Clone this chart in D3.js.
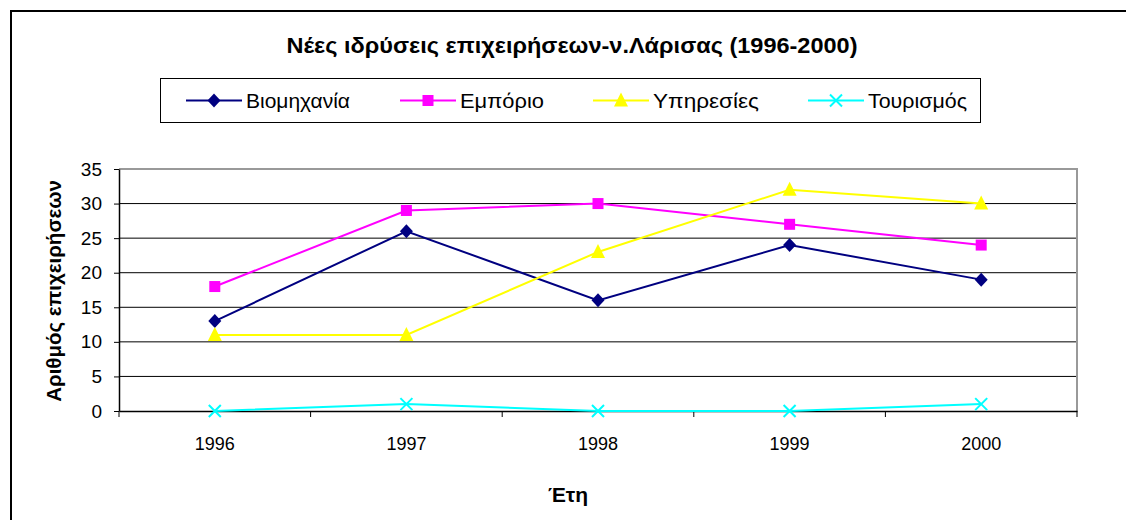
<!DOCTYPE html>
<html><head><meta charset="utf-8">
<script src="https://cdn.jsdelivr.net/npm/d3@7"></script>
<style>body{margin:0;background:#fff}svg{display:block}text{font-family:"Liberation Sans",Arial,sans-serif;fill:#000}</style>
</head><body>
<svg id="c" width="1126" height="520"></svg>
<script>
const years = ["1996","1997","1998","1999","2000"];
const seriesNames = ["Βιομηχανία","Εμπόριο","Υπηρεσίες","Τουρισμός"];
const industry = [13,26,16,24,19];
const commerce = [18,29,30,27,24];
const services = [11,11,23,32,30];
const tourism = [0,1,0,0,1];
const yTicks = [0,5,10,15,20,25,30,35];
const colors = ["#000080","#FF00FF","#FFFF00","#00FFFF"];
const shapes = ["diamond","square","triangle","x"];
const series = [industry, commerce, services, tourism];

const svg = d3.select("#c");
const L=119, R=1077, T=169, B=411;
const x = d3.scaleBand().domain(years).range([L,R]);
const y = d3.scaleLinear().domain([0,35]).range([B,T]);

// outer frame
svg.append("path").attr("d","M11,520 V11 H1126").attr("fill","none").attr("stroke","#000").attr("stroke-width",2);

// title
svg.append("text").attr("x",572).attr("y",53).attr("text-anchor","middle")
  .attr("textLength",571).attr("lengthAdjust","spacingAndGlyphs")
  .style("font-size","22px").style("font-weight","bold")
  .text("Νέες ιδρύσεις επιχειρήσεων-ν.Λάρισας (1996-2000)");

// gridlines
svg.append("g").selectAll("line").data(yTicks.filter(d=>d>0 && d<35)).join("line")
  .attr("x1",L).attr("x2",R).attr("y1",d=>y(d)).attr("y2",d=>y(d)).attr("stroke","#000").attr("stroke-width",1);
// plot border
svg.append("path").attr("d",`M${L},${T} H${R} V${B}`).attr("fill","none").attr("stroke","#999").attr("stroke-width",2);

// y axis
const ya = svg.append("g").attr("transform",`translate(${L},0)`)
  .call(d3.axisLeft(y).tickValues(yTicks).tickSize(5).tickSizeOuter(0).tickPadding(12));
ya.select(".domain").attr("stroke","#000").attr("stroke-width",1.5);
ya.selectAll("line").attr("stroke","#000");
ya.selectAll("text").style("font-size","19px").style("font-family","Liberation Sans, Arial, sans-serif");

// x axis
const xa = svg.append("g").attr("transform",`translate(0,${B})`)
  .call(d3.axisBottom(x).tickSize(0).tickPadding(26));
xa.select(".domain").attr("stroke","#000").attr("stroke-width",1.5);
xa.selectAll("text").style("font-size","18px").style("font-family","Liberation Sans, Arial, sans-serif");
const bounds = years.map(d=>x(d)).concat([x(years[years.length-1])+x.bandwidth()]);
svg.append("g").selectAll("line").data(bounds).join("line")
  .attr("x1",d=>d).attr("x2",d=>d).attr("y1",B).attr("y2",B+6).attr("stroke","#000").attr("stroke-width",1);

// axis titles
svg.append("text").attr("x",568).attr("y",502).attr("text-anchor","middle")
  .style("font-size","21px").style("font-weight","bold").text("Έτη");
svg.append("text").attr("transform",`translate(61,${(T+B)/2+1}) rotate(-90)`).attr("text-anchor","middle")
  .style("font-size","20.5px").style("font-weight","bold").text("Αριθμός επιχειρήσεων");

function marker(g, shape, color){
  if(shape==="diamond") g.append("path").attr("d","M0,-7 L6.5,0 L0,7 L-6.5,0Z").attr("fill",color);
  else if(shape==="square") g.append("rect").attr("x",-5.5).attr("y",-5.5).attr("width",11).attr("height",11).attr("fill",color);
  else if(shape==="triangle") g.append("path").attr("d","M0,-8 L7,6 L-7,6Z").attr("fill",color);
  else g.append("path").attr("d","M-6,-6 L6,6 M-6,6 L6,-6").attr("stroke",color).attr("stroke-width",2);
}

const line = d3.line().x((d,i)=>x(years[i])+x.bandwidth()/2).y(d=>y(d));
series.forEach((s,k)=>{
  svg.append("path").attr("d",line(s)).attr("fill","none").attr("stroke",colors[k]).attr("stroke-width",2);
});
series.forEach((s,k)=>{
  s.forEach((v,i)=>{
    const g = svg.append("g").attr("transform",`translate(${x(years[i])+x.bandwidth()/2},${y(v)})`);
    marker(g, shapes[k], colors[k]);
  });
});

// legend
svg.append("rect").attr("x",160.5).attr("y",78.5).attr("width",820).attr("height",44).attr("fill","#fff").attr("stroke","#000").attr("stroke-width",1);
const lx = [186,400,593,808];
const lw = [104,84,106,99];
seriesNames.forEach((n,k)=>{
  const g = svg.append("g").attr("transform",`translate(${lx[k]},100.5)`);
  g.append("line").attr("x1",0).attr("x2",56).attr("stroke",colors[k]).attr("stroke-width",2);
  marker(g.append("g").attr("transform","translate(28,0)"), shapes[k], colors[k]);
  g.append("text").attr("x",60).attr("y",7.5).attr("textLength",lw[k]).attr("lengthAdjust","spacingAndGlyphs")
    .style("font-size","21px").text(n);
});
</script>
</body></html>
